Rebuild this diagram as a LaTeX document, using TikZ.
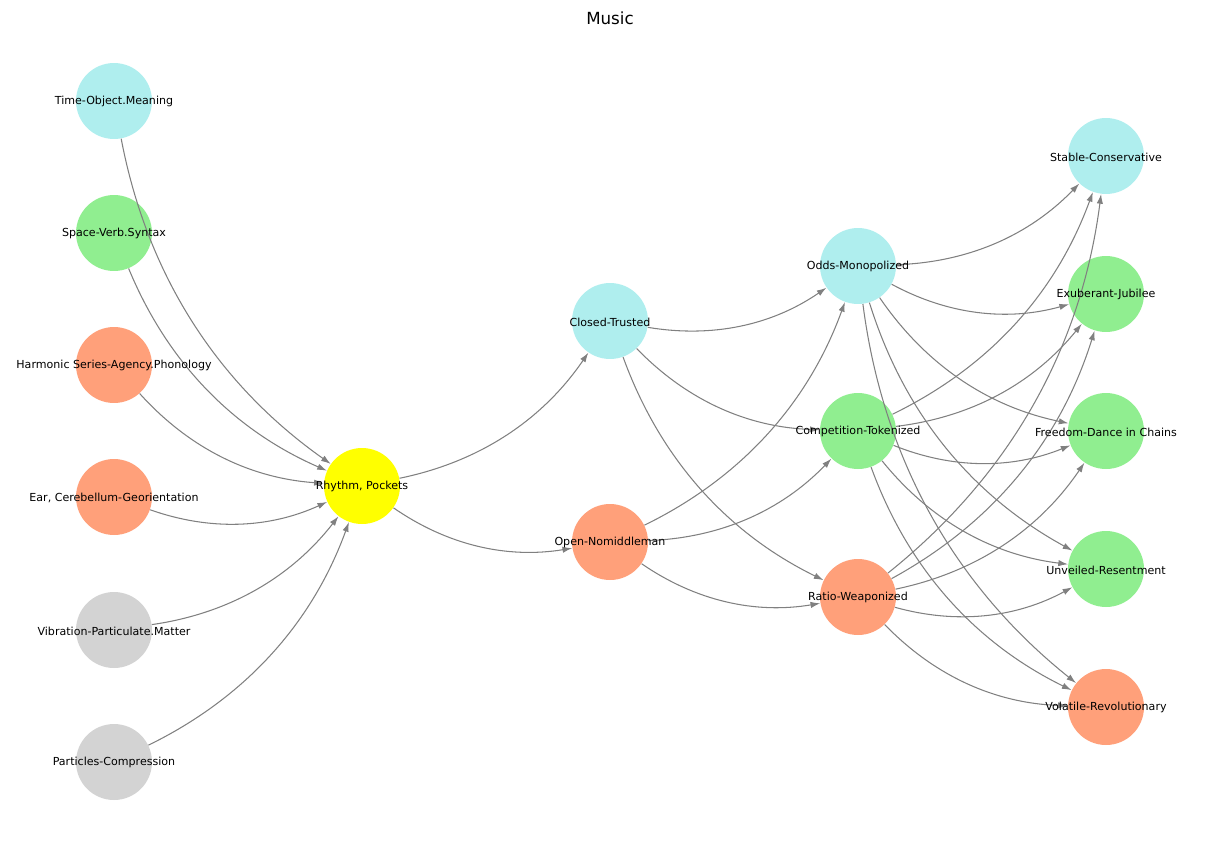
\documentclass[tikz,border=0pt]{standalone}
\usepackage{fontspec}
\setmainfont{DejaVu Sans}
\usepackage{xcolor}
\usetikzlibrary{arrows.meta}

\definecolor{nodecyan}{HTML}{AFEEEE}
\definecolor{nodegreen}{HTML}{90EE90}
\definecolor{nodesalmon}{HTML}{FFA07A}
\definecolor{nodegray}{HTML}{D3D3D3}
\definecolor{nodeyellow}{HTML}{FFFF00}
\definecolor{edgegray}{HTML}{808080}

\begin{document}
\begin{tikzpicture}[x=0.02cm, y=0.02cm, >={Latex[length=5.5pt,width=3.6pt]},
    vertex/.style={circle, minimum size=1.52cm, inner sep=0pt},
    tag/.style={font=\fontsize{6.3}{7.5}\selectfont, inner sep=0pt, yshift=-0.5},
    link/.style={->, draw=edgegray, line width=0.6pt, bend right=22, looseness=0.92}]
    \useasboundingbox (0,0) rectangle (1220,-842);

    % Tiêu đề
    \node[font=\fontsize{9.5}{11}\selectfont] (title) at (610,-18) {Music};

    % Cột trái
    \node[vertex, fill=nodecyan]   (t1) at (114,-101) {};
    \node[vertex, fill=nodegreen]  (t2) at (114,-233) {};
    \node[vertex, fill=nodesalmon] (t3) at (114,-365) {};
    \node[vertex, fill=nodesalmon] (t4) at (114,-497) {};
    \node[vertex, fill=nodegray]   (t5) at (114,-630) {};
    \node[vertex, fill=nodegray]   (t6) at (114,-762) {};

    % Nút giữa
    \node[vertex, fill=nodeyellow] (rp) at (362,-486) {};
    \node[vertex, fill=nodecyan]   (ct) at (610,-321) {};
    \node[vertex, fill=nodesalmon] (on) at (610,-542) {};

    \node[vertex, fill=nodecyan]   (om) at (858,-266) {};
    \node[vertex, fill=nodegreen]  (cp) at (858,-431) {};
    \node[vertex, fill=nodesalmon] (rw) at (858,-597) {};

    % Cột phải
    \node[vertex, fill=nodecyan]   (sc) at (1106,-156) {};
    \node[vertex, fill=nodegreen]  (ej) at (1106,-294) {};
    \node[vertex, fill=nodegreen]  (fd) at (1106,-431) {};
    \node[vertex, fill=nodegreen]  (ur) at (1106,-569) {};
    \node[vertex, fill=nodesalmon] (vr) at (1106,-707) {};

    % Cạnh
    \draw[link] (t1) to (rp);
    \draw[link] (t2) to (rp);
    \draw[link] (t3) to (rp);
    \draw[link] (t4) to (rp);
    \draw[link] (t5) to (rp);
    \draw[link] (t6) to (rp);

    \draw[link] (rp) to (ct);
    \draw[link] (rp) to (on);

    \draw[link] (ct) to (om);
    \draw[link] (ct) to (cp);
    \draw[link] (ct) to (rw);
    \draw[link] (on) to (om);
    \draw[link] (on) to (cp);
    \draw[link] (on) to (rw);

    \draw[link] (om) to (sc);
    \draw[link] (om) to (ej);
    \draw[link] (om) to (fd);
    \draw[link] (om) to (ur);
    \draw[link] (om) to (vr);
    \draw[link] (cp) to (sc);
    \draw[link] (cp) to (ej);
    \draw[link] (cp) to (fd);
    \draw[link] (cp) to (ur);
    \draw[link] (cp) to (vr);
    \draw[link] (rw) to (sc);
    \draw[link] (rw) to (ej);
    \draw[link] (rw) to (fd);
    \draw[link] (rw) to (ur);
    \draw[link] (rw) to (vr);

    % Nhãn
    \node[tag] at (t1) {Time-Object.Meaning};
    \node[tag] at (t2) {Space-Verb.Syntax};
    \node[tag] at (t3) {Harmonic Series-Agency.Phonology};
    \node[tag] at (t4) {Ear, Cerebellum-Georientation};
    \node[tag] at (t5) {Vibration-Particulate.Matter};
    \node[tag] at (t6) {Particles-Compression};
    \node[tag] at (rp) {Rhythm, Pockets};
    \node[tag] at (ct) {Closed-Trusted};
    \node[tag] at (on) {Open-Nomiddleman};
    \node[tag] at (om) {Odds-Monopolized};
    \node[tag] at (cp) {Competition-Tokenized};
    \node[tag] at (rw) {Ratio-Weaponized};
    \node[tag] at (sc) {Stable-Conservative};
    \node[tag] at (ej) {Exuberant-Jubilee};
    \node[tag] at (fd) {Freedom-Dance in Chains};
    \node[tag] at (ur) {Unveiled-Resentment};
    \node[tag] at (vr) {Volatile-Revolutionary};
\end{tikzpicture}
\end{document}
